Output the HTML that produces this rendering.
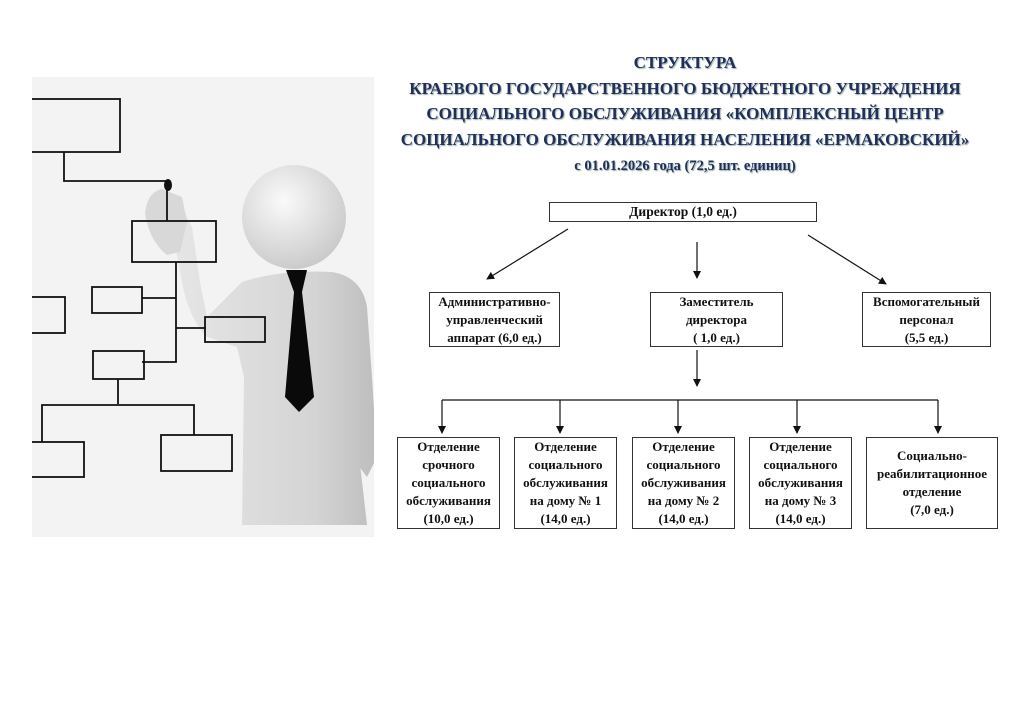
<!DOCTYPE html>
<html><head><meta charset="utf-8"><style>
body{margin:0;width:1024px;height:724px;background:#fff;position:relative;overflow:hidden;font-family:"Liberation Serif",serif;}
.t{position:absolute;left:340px;width:690px;text-align:center;color:#1f2f5a;font-weight:bold;font-size:17px;text-shadow:1px 1px 1px #9aa;}
.b{position:absolute;border:1px solid #333;box-sizing:border-box;display:flex;align-items:center;justify-content:center;text-align:center;font-weight:bold;font-size:13px;line-height:18px;color:#111;white-space:nowrap;}
</style></head><body>
<svg style="position:absolute;left:32px;top:77px" width="342" height="460" viewBox="0 0 342 460">
<defs><radialGradient id="h" cx="40%" cy="35%" r="70%"><stop offset="0" stop-color="#fafafa"/><stop offset="1" stop-color="#c8c8c8"/></radialGradient>
<linearGradient id="g" x1="0" x2="1"><stop offset="0" stop-color="#e6e6e6"/><stop offset="0.7" stop-color="#d4d4d4"/><stop offset="1" stop-color="#bdbdbd"/></linearGradient></defs>
<rect width="342" height="460" fill="#f3f3f3"/>
<path d="M210 205 Q250 192 300 195 Q330 200 335 230 L340 300 L345 380 L335 400 L320 380 L318 300 L335 448 L210 448 L212 300 L205 270 L175 260 Q155 240 148 195 L140 150 L150 130 L160 150 L168 205 L175 240 Z" fill="url(#g)"/>
<circle cx="262" cy="140" r="52" fill="url(#h)"/>
<path d="M113 137 Q115 115 130 112 L150 120 L155 145 L148 175 L135 178 Q118 165 113 137Z" fill="#d8d8d8"/>
<polygon points="254,193 275,193 270,215 282,320 267,335 253,320 262,215" fill="#0a0a0a"/>
<g fill="none" stroke="#111" stroke-width="1.8">
<rect x="-2" y="22" width="90" height="53"/>
<path d="M32 75V104H135V144"/>
<rect x="100" y="144" width="84" height="41"/>
<path d="M144 185V285H110M144 221H110M144 251H174"/>
<rect x="60" y="210" width="50" height="26"/>
<rect x="-2" y="220" width="35" height="36"/>
<rect x="173" y="240" width="60" height="25"/>
<rect x="61" y="274" width="51" height="28"/>
<path d="M86 302V327M10 365V328H162V358"/>
<rect x="-2" y="365" width="54" height="35"/>
<rect x="129" y="358" width="71" height="36"/>
</g>
<ellipse cx="136" cy="108" rx="4" ry="6" fill="#111"/>
</svg>
<div class="t" style="top:53px">СТРУКТУРА</div>
<div class="t" style="top:79px">КРАЕВОГО ГОСУДАРСТВЕННОГО БЮДЖЕТНОГО УЧРЕЖДЕНИЯ</div>
<div class="t" style="top:104px">СОЦИАЛЬНОГО ОБСЛУЖИВАНИЯ «КОМПЛЕКСНЫЙ ЦЕНТР</div>
<div class="t" style="top:130px">СОЦИАЛЬНОГО ОБСЛУЖИВАНИЯ НАСЕЛЕНИЯ «ЕРМАКОВСКИЙ»</div>
<div class="t" style="top:158px;font-size:14.5px">с 01.01.2026 года (72,5 шт. единиц)</div>
<svg style="position:absolute;left:0;top:0" width="1024" height="724">
<defs><marker id="a" markerWidth="8" markerHeight="8" refX="7" refY="4" orient="auto" markerUnits="userSpaceOnUse"><path d="M0 0L8 4L0 8Z" fill="#111"/></marker></defs>
<g stroke="#111" stroke-width="1.2" fill="none">
<line x1="568" y1="229" x2="487" y2="279" marker-end="url(#a)"/>
<line x1="697" y1="242" x2="697" y2="278" marker-end="url(#a)"/>
<line x1="808" y1="235" x2="886" y2="284" marker-end="url(#a)"/>
<line x1="697" y1="350" x2="697" y2="386" marker-end="url(#a)"/>
<line x1="442" y1="400" x2="938" y2="400"/>
<line x1="442" y1="400" x2="442" y2="433" marker-end="url(#a)"/>
<line x1="560" y1="400" x2="560" y2="433" marker-end="url(#a)"/>
<line x1="678" y1="400" x2="678" y2="433" marker-end="url(#a)"/>
<line x1="797" y1="400" x2="797" y2="433" marker-end="url(#a)"/>
<line x1="938" y1="400" x2="938" y2="433" marker-end="url(#a)"/>
</g></svg>
<div class="b" style="left:549px;top:202px;width:268px;height:20px;font-size:13.5px">Директор (1,0 ед.)</div>
<div class="b" style="left:429px;top:292px;width:131px;height:55px">Административно-<br>управленческий<br>аппарат (6,0 ед.)</div>
<div class="b" style="left:650px;top:292px;width:133px;height:55px">Заместитель<br>директора<br>( 1,0 ед.)</div>
<div class="b" style="left:862px;top:292px;width:129px;height:55px">Вспомогательный<br>персонал<br>(5,5 ед.)</div>
<div class="b" style="left:397px;top:437px;width:103px;height:92px">Отделение<br>срочного<br>социального<br>обслуживания<br>(10,0 ед.)</div>
<div class="b" style="left:514px;top:437px;width:103px;height:92px">Отделение<br>социального<br>обслуживания<br>на дому № 1<br>(14,0 ед.)</div>
<div class="b" style="left:632px;top:437px;width:103px;height:92px">Отделение<br>социального<br>обслуживания<br>на дому № 2<br>(14,0 ед.)</div>
<div class="b" style="left:749px;top:437px;width:103px;height:92px">Отделение<br>социального<br>обслуживания<br>на дому № 3<br>(14,0 ед.)</div>
<div class="b" style="left:866px;top:437px;width:132px;height:92px">Социально-<br>реабилитационное<br>отделение<br>(7,0 ед.)</div>
</body></html>
